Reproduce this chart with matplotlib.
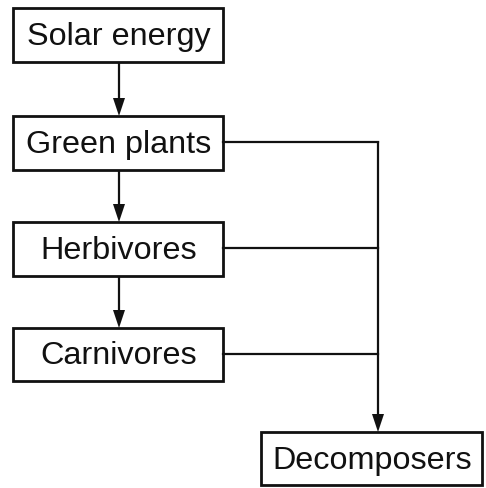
import matplotlib
matplotlib.use("Agg")
import matplotlib.pyplot as plt
from matplotlib.patches import Rectangle, Polygon

# Nodes of the energy-flow diagram
labels = ["Solar energy", "Green plants", "Herbivores", "Carnivores", "Decomposers"]
# Flow edges (source -> target)
chain_edges = [(0, 1), (1, 2), (2, 3)]
to_decomposer = [1, 2, 3]

# Layout (pixel coordinates: x0, y0, x1, y1)
boxes = [
    (13, 9, 223, 63),
    (13, 117, 223, 171),
    (13, 223, 223, 277),
    (13, 329, 223, 382),
    (261, 433, 482, 486),
]
bus_x = 378

W, H = 486, 489
fig = plt.figure(figsize=(W / 100, H / 100), dpi=100)
ax = fig.add_axes([0, 0, 1, 1])
ax.set_xlim(0, W)
ax.set_ylim(H, 0)
ax.axis("off")

lw = 1.6
col = "#111111"

def arrow_down(x, y0, y1):
    hl, hw = 18, 6
    ax.plot([x, x], [y0, y1 - hl + 2], color=col, lw=lw, solid_capstyle="butt")
    ax.add_patch(Polygon([(x - hw, y1 - hl), (x + hw, y1 - hl), (x, y1)],
                         closed=True, color=col, lw=0))

for (x0, y0, x1, y1), lab in zip(boxes, labels):
    ax.add_patch(Rectangle((x0, y0), x1 - x0, y1 - y0, fill=False,
                           edgecolor=col, lw=2.0))
    ax.text((x0 + x1) / 2 + 1, (y0 + y1) / 2 + 1, lab, ha="center", va="center",
            fontsize=23.3, family="Liberation Sans", color=col)

for s, t in chain_edges:
    xs = (boxes[s][0] + boxes[s][2]) / 2 + 1
    arrow_down(xs, boxes[s][3], boxes[t][1])

ys = []
for i in to_decomposer:
    y = (boxes[i][1] + boxes[i][3]) / 2 - 1
    ys.append(y)
    ax.plot([boxes[i][2], bus_x], [y, y], color=col, lw=lw)

arrow_down(bus_x, min(ys) - 1, boxes[4][1])

fig.savefig("out.png", dpi=100)
